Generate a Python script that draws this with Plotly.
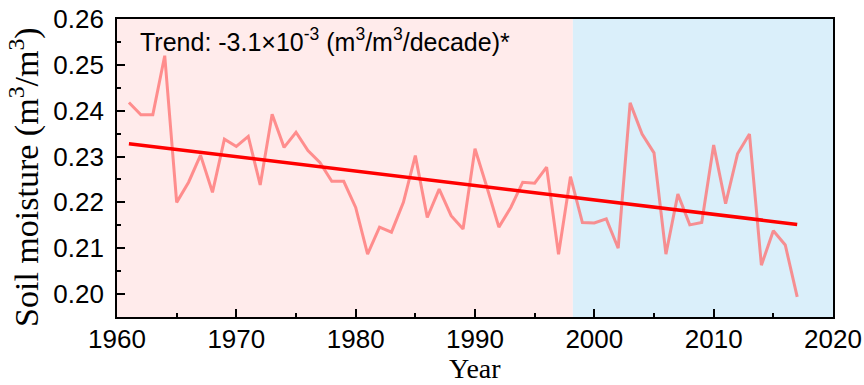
import numpy as np
import plotly.graph_objects as go

years = list(range(1961, 2018))
soil_moisture = [
    0.2418, 0.2391, 0.2391, 0.2520, 0.2200, 0.2244, 0.2303, 0.2222, 0.2338, 0.2322,
    0.2344, 0.2238, 0.2392, 0.2320, 0.2353, 0.2313, 0.2287, 0.2246, 0.2246, 0.2189,
    0.2087, 0.2146, 0.2135, 0.2200, 0.2302, 0.2167, 0.2229, 0.2171, 0.2142, 0.2317,
    0.2233, 0.2146, 0.2189, 0.2244, 0.2242, 0.2277, 0.2087, 0.2256, 0.2156, 0.2155,
    0.2164, 0.2100, 0.2417, 0.2349, 0.2308, 0.2087, 0.2218, 0.2151, 0.2156, 0.2325,
    0.2197, 0.2306, 0.2349, 0.2063, 0.2138, 0.2107, 0.1994,
]
trend_years = [1961, 2017]
trend_values = [0.2328, 0.2152]
period_break = 1998.2
period_edges = [1960, period_break, 2020]
period_colors = ["rgb(255,235,235)", "rgb(218,239,250)"]
trend_text = "Trend: -3.1×10<sup>-3</sup> (m<sup>3</sup>/m<sup>3</sup>/decade)*"
x_title = "Year"
y_title = "Soil moisture (m<sup>3</sup>/m<sup>3</sup>)"

fig = go.Figure()
for i, c in enumerate(period_colors):
    fig.add_shape(type="rect", xref="x", yref="paper",
                  x0=period_edges[i], x1=period_edges[i + 1], y0=0, y1=1,
                  fillcolor=c, line_width=0, layer="below")

fig.add_trace(go.Scatter(x=years, y=soil_moisture, mode="lines",
                         line=dict(color="rgba(255,110,110,0.75)", width=3),
                         showlegend=False, hoverinfo="skip"))
fig.add_trace(go.Scatter(x=trend_years, y=trend_values, mode="lines",
                         line=dict(color="#ff0000", width=3.5),
                         showlegend=False, hoverinfo="skip"))

tickfont = dict(family="Liberation Sans, Arial", size=26, color="black")

fig.update_xaxes(range=[1960, 2020], dtick=10, tick0=1960,
                 ticks="inside", ticklen=8, tickwidth=1.5, tickcolor="black",
                 minor=dict(dtick=5, ticks="inside", ticklen=4, tickwidth=1.5, tickcolor="black"),
                 showline=True, linecolor="black", linewidth=1.8, mirror=True,
                 showgrid=False, zeroline=False, tickfont=tickfont,
                 ticklabelstandoff=-2, automargin=False)
fig.update_yaxes(range=[0.195, 0.26], dtick=0.01, tick0=0.2, tickformat=".2f",
                 ticks="inside", ticklen=8, tickwidth=1.5, tickcolor="black",
                 minor=dict(dtick=0.005, ticks="inside", ticklen=4, tickwidth=1.5, tickcolor="black"),
                 showline=True, linecolor="black", linewidth=1.8, mirror=True,
                 showgrid=False, zeroline=False, tickfont=tickfont,
                 ticklabelstandoff=6, automargin=False)

fig.add_annotation(xref="paper", yref="paper", x=0.03, y=0.99, xanchor="left", yanchor="top",
                   text=trend_text, showarrow=False,
                   font=dict(family="Liberation Sans, Arial", size=25, color="black"))
fig.add_annotation(xref="paper", yref="paper", x=0.5, y=-0.2285, xanchor="center", yanchor="bottom",
                   text=x_title, showarrow=False, borderpad=0,
                   font=dict(family="Liberation Serif, Times New Roman", size=28, color="black"))
fig.add_annotation(xref="paper", yref="paper", x=-0.1285, y=0.47, xanchor="center", yanchor="middle",
                   text=y_title, showarrow=False, textangle=-90,
                   font=dict(family="Liberation Serif, Times New Roman", size=34, color="black"))

fig.update_layout(width=864, height=385, margin=dict(l=117, r=31, t=19, b=68),
                  plot_bgcolor="white", paper_bgcolor="white", hovermode=False)

fig.write_html("out.html", config={"displayModeBar": False},
               post_script="document.body.style.margin='0px';")
